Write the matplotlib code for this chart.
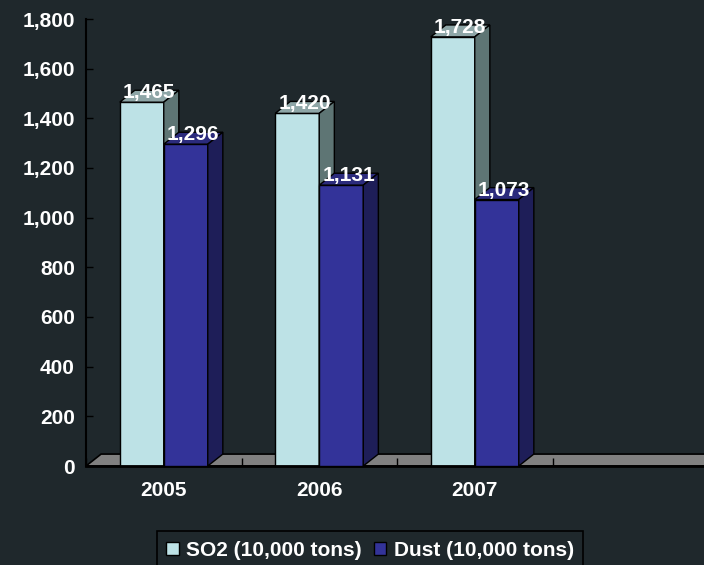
import numpy as np
import matplotlib.pyplot as plt
from matplotlib.patches import Polygon, Patch

# chart data
years = ['2005', '2006', '2007']
so2 = [1465, 1420, 1728]
dust = [1296, 1131, 1073]
yticks = [0, 200, 400, 600, 800, 1000, 1200, 1400, 1600, 1800]

plt.rcParams['font.family'] = ['Liberation Sans', 'DejaVu Sans']
plt.rcParams['font.weight'] = 'bold'

bg = '#1f282c'
so2_cols = ('#bde2e6', '#8ea6a7', '#5e7574')   # front, top, side
dust_cols = ('#333399', '#2b2b7c', '#1e1e58')

fig = plt.figure(figsize=(7.04, 5.65), dpi=100, facecolor=bg)
ax = fig.add_axes([86/704, 99/565, 622/704, 447/565])
ax.set_facecolor(bg)
ax.set_xlim(-0.5, 3.5)
ax.set_ylim(0, 1800)

w = 0.283   # bar width
dx = 0.097  # depth offset x
dy = 48     # depth offset y

# floor
floor = Polygon([(-0.5, 0), (3.7, 0), (3.7 + dx, dy), (-0.5 + dx, dy)],
                facecolor='#808080', edgecolor='black', lw=1.2,
                clip_on=False, zorder=1)
ax.add_patch(floor)


def bar3d(x0, h, cols, z):
    x1 = x0 + w
    kw = dict(edgecolor='black', lw=1.0, clip_on=False, zorder=z)
    ax.add_patch(Polygon([(x0, 0), (x1, 0), (x1, h), (x0, h)],
                         facecolor=cols[0], **kw))
    ax.add_patch(Polygon([(x0, h), (x1, h), (x1 + dx, h + dy), (x0 + dx, h + dy)],
                         facecolor=cols[1], **kw))
    ax.add_patch(Polygon([(x1, 0), (x1, h), (x1 + dx, h + dy), (x1 + dx, dy)],
                         facecolor=cols[2], **kw))
    ax.text(x0 + w / 2 + dx / 2, h + 16, f'{h:,}', color='white',
            fontsize=15, ha='center', va='baseline', zorder=10)


x = np.arange(len(years))
for i in range(len(years)):
    bar3d(x[i] - w, so2[i], so2_cols, 2)
    bar3d(x[i], dust[i], dust_cols, 3)

for s in ['top', 'right']:
    ax.spines[s].set_visible(False)
ax.spines['left'].set_linewidth(1.5)
ax.spines['bottom'].set_linewidth(2)
ax.spines['left'].set_color('black')
ax.spines['bottom'].set_color('black')

ax.set_yticks(yticks)
ax.set_yticklabels([f'{v:,}' for v in yticks])
ax.tick_params(axis='y', direction='in', length=5, width=1, color='black',
               labelcolor='white', labelsize=15, pad=8)

ax.set_xticks(x)
ax.set_xticklabels(years)
ax.set_xticks(np.arange(-0.5, 3.6, 1), minor=True)
ax.tick_params(axis='x', which='major', length=0, labelcolor='white',
               labelsize=15, pad=11)
ax.tick_params(axis='x', which='minor', direction='in', length=6, width=1,
               color='black')

handles = [Patch(facecolor=so2_cols[0], edgecolor='black', label='SO2 (10,000 tons)'),
           Patch(facecolor=dust_cols[0], edgecolor='black', label='Dust (10,000 tons)')]
leg = fig.legend(handles=handles, loc='upper center', bbox_to_anchor=(370/704, 44/565),
                 ncol=2, frameon=True, facecolor=bg, edgecolor='black', framealpha=1,
                 fancybox=False, fontsize=15, labelcolor='white',
                 handlelength=0.6, handleheight=0.6, handletextpad=0.35,
                 columnspacing=0.6, borderpad=0.45)
leg.get_frame().set_linewidth(1.2)

fig.savefig('out.png', dpi=100, facecolor=bg)
